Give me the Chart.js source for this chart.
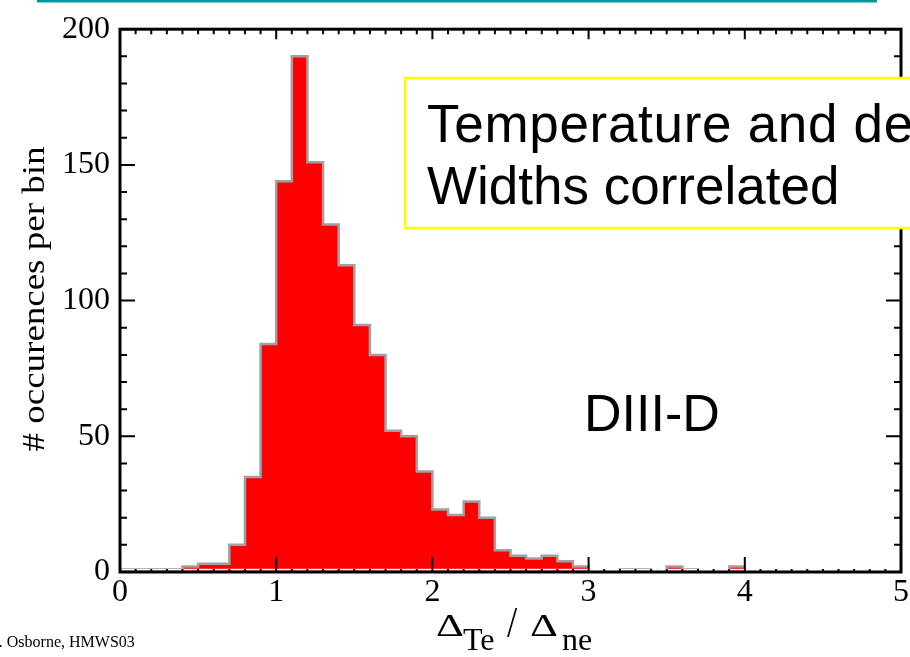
<!DOCTYPE html>
<html>
<head>
<meta charset="utf-8">
<script src="https://cdn.jsdelivr.net/npm/chart.js@4.4.0/dist/chart.umd.min.js"></script>
<style>
  html, body { margin: 0; padding: 0; background: #fff; }
  #wrap { width: 910px; height: 657px; position: relative; }
</style>
</head>
<body>
<div id="wrap"><canvas id="chart"></canvas></div>
<script>
// histogram bin edges (Delta_Te / Delta_ne)
const binEdges = [
  0.0, 0.1, 0.2, 0.3, 0.4, 0.5, 0.6, 0.7, 0.8, 0.9,
  1.0, 1.1, 1.2, 1.3, 1.4, 1.5, 1.6, 1.7, 1.8, 1.9,
  2.0, 2.1, 2.2, 2.3, 2.4, 2.5, 2.6, 2.7, 2.8, 2.9,
  3.0, 3.1, 3.2, 3.3, 3.4, 3.5, 3.6, 3.7, 3.8, 3.9,
  4.0, 4.1, 4.2, 4.3, 4.4, 4.5, 4.6, 4.7, 4.8, 4.9, 5.0
];
// occurences per bin
const counts = [
  1, 1, 1, 1, 2, 3, 3, 10, 35, 84,
  144, 190, 151, 128, 113, 91, 80, 52, 50, 37,
  23, 21, 26, 20, 8, 6, 5, 6, 4, 2,
  0, 0, 1, 1, 0, 2, 1, 0, 0, 2,
  0, 0, 0, 0, 0, 0, 0, 0, 0, 0
];
const xTickLabels = [0, 1, 2, 3, 4, 5];
const yTickLabels = [0, 50, 100, 150, 200];
const boxLines = ['Temperature and density', 'Widths correlated'];
const deviceLabel = 'DIII-D';
const yTitle = '# occurences per bin';
const footer = 'T. Osborne, HMWS03';

const SERIF = "'Liberation Serif', 'Times New Roman', serif";
const SANS = "'Liberation Sans', Arial, sans-serif";

// step points: each bin value holds from its left edge to the next edge
const points = binEdges.map((e, i) => ({ x: e, y: counts[Math.min(i, counts.length - 1)] }));

// fit a glyph into a box (left, bottom, width, height), like the symbol font of the original
function fitGlyph(ctx, ch, left, bottom, w, h) {
  ctx.save();
  ctx.font = '40px ' + SERIF;
  const m = ctx.measureText(ch);
  const gw = m.actualBoundingBoxLeft + m.actualBoundingBoxRight;
  const gh = m.actualBoundingBoxAscent + m.actualBoundingBoxDescent;
  ctx.translate(left, bottom);
  ctx.scale(w / gw, h / gh);
  ctx.fillText(ch, m.actualBoundingBoxLeft, -m.actualBoundingBoxDescent);
  ctx.restore();
}

const decor = {
  id: 'decor',
  afterDraw(chart) {
    const { ctx, chartArea: a, scales: { x, y } } = chart;
    ctx.save();

    // thin white gap between fill and bottom axis
    ctx.fillStyle = '#fff';
    ctx.fillRect(a.left, a.bottom - 3.2, a.right - a.left, 1.8);

    // frame
    ctx.strokeStyle = '#000';
    ctx.lineWidth = 3;
    ctx.strokeRect(a.left, a.top, a.right - a.left, a.bottom - a.top);

    // inward ticks
    ctx.lineWidth = 2;
    ctx.beginPath();
    for (let i = 0; i <= 50; i++) {
      const px = x.getPixelForValue(i / 10);
      const major = i % 10 === 0;
      ctx.moveTo(px, a.top); ctx.lineTo(px, a.top + (major ? 10 : 5));
      ctx.moveTo(px, a.bottom); ctx.lineTo(px, a.bottom - (major ? 15 : 3));
    }
    for (let i = 0; i <= 20; i++) {
      const py = y.getPixelForValue(i * 10);
      const len = i % 5 === 0 ? 15 : 7;
      ctx.moveTo(a.left, py); ctx.lineTo(a.left + len, py);
      ctx.moveTo(a.right, py); ctx.lineTo(a.right - len, py);
    }
    ctx.stroke();

    // yellow annotation box
    ctx.fillStyle = '#fff';
    ctx.fillRect(405, 78, 520, 150);
    ctx.strokeStyle = '#ffff00';
    ctx.lineWidth = 2.5;
    ctx.strokeRect(405, 78, 520, 150);
    ctx.fillStyle = '#000';
    ctx.font = '53px ' + SANS;
    ctx.textAlign = 'left';
    ctx.textBaseline = 'alphabetic';
    ctx.letterSpacing = '0.7px';
    ctx.fillText(boxLines[0], 427, 142);
    ctx.letterSpacing = '0px';
    ctx.fillText(boxLines[1], 427, 204);

    ctx.font = '52px ' + SANS;
    ctx.fillText(deviceLabel, 584, 431);

    // x title: Delta_Te / Delta_ne
    fitGlyph(ctx, '\u0394', 437, 636, 26, 21);
    ctx.font = '32px ' + SERIF;
    ctx.fillText('Te', 463, 650);
    fitGlyph(ctx, '/', 507, 637, 11, 29);
    fitGlyph(ctx, '\u0394', 531, 636, 26, 21);
    ctx.font = '32px ' + SERIF;
    ctx.fillText('ne', 562, 650);

    // y title
    ctx.save();
    ctx.translate(44, 299);
    ctx.rotate(-Math.PI / 2);
    ctx.textAlign = 'center';
    const w = ctx.measureText(yTitle).width;
    ctx.scale(305 / w, 1);
    ctx.fillText(yTitle, 0, 0);
    ctx.restore();

    // footer
    ctx.font = '16px ' + SERIF;
    ctx.fillText(footer, -ctx.measureText('T').width, 647);

    // teal rule at the top
    ctx.fillStyle = '#009999';
    ctx.fillRect(37, 0, 840, 2.5);

    ctx.restore();
  }
};

new Chart(document.getElementById('chart'), {
  type: 'line',
  data: {
    datasets: [{
      data: points,
      stepped: true,
      fill: 'origin',
      backgroundColor: '#ff0000',
      borderColor: '#a0a0a0',
      borderWidth: 2.5,
      pointRadius: 0,
      tension: 0
    }]
  },
  options: {
    responsive: true,
    maintainAspectRatio: false,
    animation: false,
    layout: { autoPadding: false, padding: { left: 0, top: 25, right: 3, bottom: 0 } },
    plugins: { legend: { display: false }, tooltip: { enabled: false } },
    scales: {
      x: {
        type: 'linear', min: 0, max: 5,
        afterFit: s => { s.height = 85; },
        afterBuildTicks: s => { s.ticks = xTickLabels.map(v => ({ value: v })); },
        grid: { display: false, drawTicks: false },
        border: { display: false },
        ticks: { color: '#000', padding: 1, maxRotation: 0, font: { family: SERIF, size: 32 } }
      },
      y: {
        min: 0, max: 200,
        afterFit: s => { s.width = 120; },
        afterBuildTicks: s => { s.ticks = yTickLabels.map(v => ({ value: v })); },
        grid: { display: false, drawTicks: false },
        border: { display: false },
        ticks: { color: '#000', padding: 10, font: { family: SERIF, size: 32 } }
      }
    }
  },
  plugins: [decor]
});
</script>
</body>
</html>
